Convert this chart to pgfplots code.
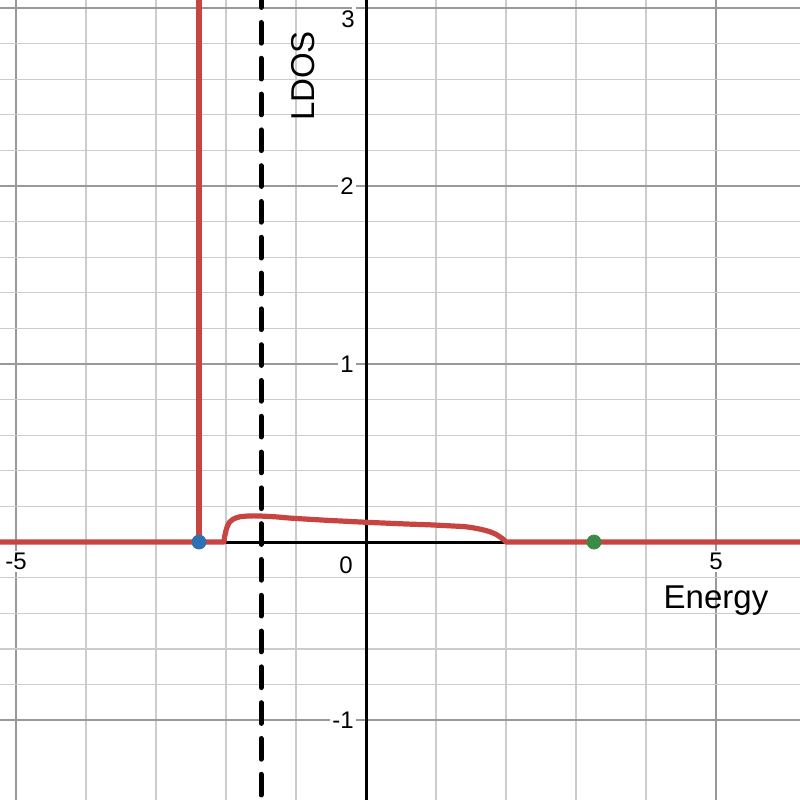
\documentclass[border=0pt]{standalone}
\usepackage{pgfplots}
\pgfplotsset{compat=1.18}
\usepackage{fontspec}
\setmainfont{Liberation Sans}

\definecolor{dred}{HTML}{C74440}
\definecolor{dblue}{HTML}{2D70B3}
\definecolor{dgreen}{HTML}{388C46}
\definecolor{majgrid}{HTML}{999999}
\definecolor{mingrid}{HTML}{CCCCCC}

\begin{document}
\begin{tikzpicture}
\begin{axis}[
  scale only axis,
  width=400pt, height=400pt,
  xmin=-5.229, xmax=6.2,
  ymin=-1.449, ymax=3.045,
  axis lines=middle,
  axis line style={-, black, line width=1.5pt},
  xtick={-5,0,5}, xticklabels={-5,{},5},
  ytick={-1,0,1,2,3}, yticklabels={-1,{},1,2,{}},
  minor x tick num=4, minor y tick num=4,
  major tick length=0pt, minor tick length=0pt,
  grid=both,
  major grid style={majgrid, line width=0.85pt},
  minor grid style={mingrid, line width=0.65pt},
  /pgf/number format/assume math mode=true,
  tick label style={font=\fontsize{12}{14}\selectfont, fill=white, inner sep=1pt},
  xticklabel style={anchor=north, yshift=-4.5pt},
  yticklabel style={anchor=east, xshift=-5pt},
]
\coordinate (sw) at (rel axis cs:0,0);
\coordinate (ne) at (rel axis cs:1,1);

% dashed vertical line, drawn from the top down
\addplot[black, line width=2.5pt, line cap=round,
  dash pattern=on 10.35pt off 7.55pt, dash phase=6.65pt]
  coordinates {(-1.5,3.045) (-1.5,-1.6)};

% LDOS curve
\addplot[dred, line width=2.6pt, line join=round] coordinates {
  (-5.4,0) (-2.03,0) (-2.02,0.03) (-2.0,0.065) (-1.98,0.09) (-1.95,0.112)
  (-1.9,0.128) (-1.85,0.137) (-1.8,0.142) (-1.7,0.146) (-1.6,0.147)
  (-1.5,0.146) (-1.3,0.142) (-1.1,0.135) (-0.9,0.130) (-0.6,0.123)
  (-0.3,0.117) (0,0.111) (0.3,0.106) (0.6,0.101) (0.9,0.097)
  (1.2,0.091) (1.4,0.087) (1.5,0.082) (1.6,0.075) (1.7,0.066)
  (1.77,0.058) (1.85,0.045) (1.91,0.03) (1.96,0.016) (2.0,0) (6.4,0)
};
% bound state delta
\addplot[dred, line width=2.6pt] coordinates {(-2.386,0) (-2.386,3.2)};

\addplot[only marks, mark=*, mark size=3.5pt, dblue] coordinates {(-2.386,0)};
\addplot[only marks, mark=*, mark size=3.5pt, dgreen] coordinates {(3.257,0)};

\node[anchor=north east, inner sep=0pt, font=\fontsize{12}{14}\selectfont] at (axis cs:0,0) [xshift=-6.5pt, yshift=-7pt] {0};
\node[anchor=north east, inner sep=0pt, font=\fontsize{12}{14}\selectfont] at (axis cs:0,3) [xshift=-5.5pt, yshift=-1pt] {3};
\node[anchor=north, inner sep=0pt, font=\fontsize{16.5}{18}\selectfont] at (axis cs:5,0) [yshift=-21.5pt] {Energy};
\node[rotate=90, inner sep=0pt, font=\fontsize{16.5}{18}\selectfont] at (axis cs:-0.9,2.618) {LDOS};
\end{axis}
\pgfresetboundingbox
\useasboundingbox (sw) rectangle (ne);
\end{tikzpicture}
\end{document}
